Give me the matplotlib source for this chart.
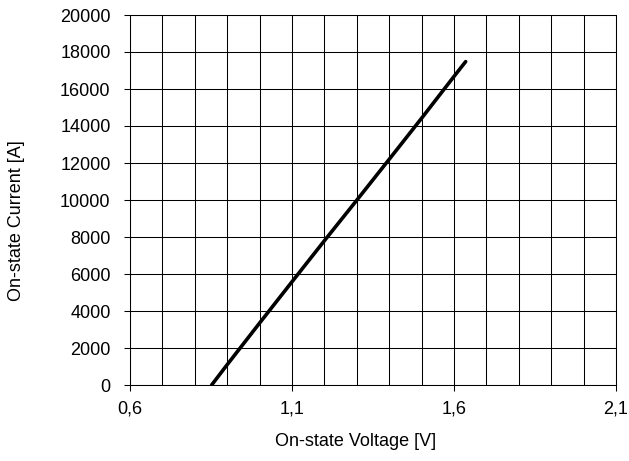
import matplotlib
matplotlib.use('Agg')
import matplotlib.pyplot as plt
from matplotlib.ticker import MultipleLocator, FuncFormatter

plt.rcParams['font.family'] = ['Liberation Sans', 'DejaVu Sans']

# on-state characteristic
voltage = [0.852, 0.9, 1.0, 1.1, 1.2, 1.3, 1.4, 1.5, 1.6, 1.636]
current = [0, 1100, 3350, 5580, 7800, 9990, 12200, 14420, 16680, 17480]

x_ticks = [0.6, 1.1, 1.6, 2.1]
y_ticks = list(range(0, 20001, 2000))

fs = 13
W, H = 629, 461

fig = plt.figure(figsize=(W / 100, H / 100), dpi=100)
ax = fig.add_axes([130 / W, 1 - 385 / H, 486 / W, 370 / H])

ax.plot(voltage, current, color='black', linewidth=2.6, solid_capstyle='round', zorder=3)

ax.set_xlim(0.6, 2.1)
ax.set_ylim(0, 20000)
ax.set_xticks(x_ticks)
ax.set_yticks(y_ticks)
ax.xaxis.set_minor_locator(MultipleLocator(0.1))
ax.xaxis.set_major_formatter(FuncFormatter(lambda v, p: f'{v:.1f}'.replace('.', ',')))

ax.grid(True, which='both', axis='x', color='black', linewidth=0.75)
ax.grid(True, which='major', axis='y', color='black', linewidth=0.75)
ax.tick_params(axis='x', which='minor', length=0)
ax.tick_params(which='major', direction='out', length=4, width=0.75, labelsize=fs, pad=7)
ax.tick_params(axis='y', pad=10)

for s in ax.spines.values():
    s.set_linewidth(0.75)
    s.set_color('black')

# axis titles placed in pixel coordinates
fig.text(356 / W, 1 - 441 / H, 'On-state Voltage [V]', fontsize=fs, ha='center', va='center')
fig.text(17 / W, 1 - 221 / H, 'On-state Current [A]', fontsize=fs, ha='center', va='center',
         rotation=90)

fig.savefig('out.png', dpi=100)
